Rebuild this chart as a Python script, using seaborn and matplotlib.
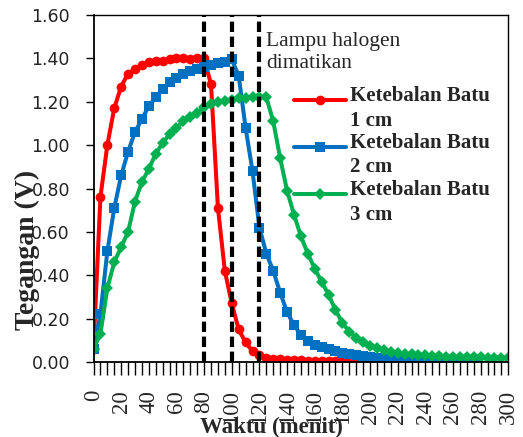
import numpy as np
import pandas as pd
import matplotlib
matplotlib.use("Agg")
import matplotlib.pyplot as plt
import seaborn as sns

# ---------------- data ----------------
time_1cm = list(range(0, 245, 5))
volt_1cm = [0.06, 0.76, 1.00, 1.17, 1.27, 1.33, 1.35, 1.37, 1.385, 1.39, 1.39, 1.395, 1.40, 1.40, 1.395, 1.40, 1.40,
            1.28, 0.71, 0.42, 0.27, 0.15, 0.09, 0.05, 0.03, 0.02, 0.015, 0.012, 0.01, 0.008, 0.007, 0.006, 0.005,
            0.005, 0.004, 0.004, 0.003, 0.003, 0.003, 0.002, 0.002,
            0.002, 0.002, 0.001, 0.001, 0.001, 0.001, 0.001, 0.001]

time_2cm = list(range(0, 280, 5))
volt_2cm = [0.06, 0.22, 0.51, 0.71, 0.86, 0.97, 1.06, 1.12, 1.18, 1.22, 1.26, 1.29, 1.31, 1.33, 1.34, 1.35, 1.36,
            1.37, 1.38, 1.385, 1.395,
            1.32, 1.08, 0.88, 0.62, 0.50, 0.42, 0.32, 0.23, 0.17, 0.125, 0.095, 0.08, 0.068, 0.058, 0.05, 0.042,
            0.036, 0.03, 0.026, 0.022,
            0.019, 0.016, 0.014, 0.012, 0.010, 0.009, 0.008, 0.007, 0.006, 0.005, 0.005, 0.004, 0.004, 0.003, 0.003]

time_3cm = list(range(0, 305, 5))
volt_3cm = [0.06, 0.13, 0.34, 0.46, 0.53, 0.60, 0.74, 0.83, 0.89, 0.96, 1.01, 1.05, 1.08, 1.11, 1.13, 1.15, 1.175,
            1.19, 1.20, 1.205, 1.21, 1.215, 1.215, 1.22, 1.22, 1.22,
            1.11, 0.94, 0.79, 0.68, 0.58, 0.50, 0.43, 0.37, 0.31, 0.24, 0.18, 0.14, 0.11, 0.09, 0.075, 0.063,
            0.054, 0.047, 0.042, 0.038, 0.035, 0.032, 0.03, 0.028, 0.026, 0.025, 0.024, 0.023, 0.022, 0.022,
            0.021, 0.02, 0.02, 0.02, 0.02]

series_labels = ["Ketebalan Batu\n1 cm", "Ketebalan Batu\n2 cm", "Ketebalan Batu\n3 cm"]
off_times = [80, 100, 120]
annotation = "Lampu halogen\ndimatikan"
x_ticks = list(range(0, 320, 20))
y_ticks = [0.0, 0.2, 0.4, 0.6, 0.8, 1.0, 1.2, 1.4, 1.6]

# ---------------- style ----------------
sns.set_style("ticks")
plt.rcParams["font.family"] = ["DejaVu Sans"]

W, H, DPI = 523, 437, 100
fig = plt.figure(figsize=(W / DPI, H / DPI), dpi=DPI)
ax = fig.add_axes([93.5 / W, 1 - 362 / H, (508.3 - 93.5) / W, (362 - 15) / H])

colors = ["#FF0000", "#0070C0", "#00B050"]
markers = ["o", "s", "D"]
msizes = [7, 6.5, 6]
data = [(time_1cm, volt_1cm), (time_2cm, volt_2cm), (time_3cm, volt_3cm)]

handles = []
for (t, v), lab, c, m, ms in zip(data, series_labels, colors, markers, msizes):
    df = pd.DataFrame({"t": t, "v": v})
    sns.lineplot(data=df, x="t", y="v", ax=ax, color=c, marker=m, markersize=ms,
                 markeredgewidth=0, linewidth=2.9, label=lab, legend=False)
    handles.append(ax.lines[-1])

for xt in off_times:
    ax.axvline(xt, color="black", linewidth=3, dashes=(2.5, 1.1), zorder=5)

ax.set_xlim(0, 300)
ax.set_ylim(0, 1.6)
ax.set_xticks(x_ticks)
ax.set_xticklabels([str(x) for x in x_ticks], rotation=90, fontfamily="Liberation Serif", fontsize=16.5)
ax.set_xticks(list(range(0, 305, 5)), minor=True)
ax.set_yticks(y_ticks)
ax.set_yticklabels([f"{y:.2f}" for y in y_ticks], fontfamily="DejaVu Sans", fontsize=12.5, color="#222222")
ax.tick_params(axis="x", which="both", direction="out", length=9, width=1, pad=11, color="black")
ax.tick_params(axis="y", which="major", direction="out", length=6, width=1, pad=11, color="black")

for s in ax.spines.values():
    s.set_color("black")
    s.set_linewidth(1)
for side in ["left", "bottom"]:
    ax.spines[side].set_linewidth(1.3)

ax.set_xlabel("Waktu (menit)", fontfamily="Liberation Serif", fontweight="bold", fontsize=16.5)
ax.xaxis.label.set_va("center")
ax.xaxis.set_label_coords((271 - 93.5) / 414.8, (362 - 427) / 347)
ax.set_ylabel("Tegangan (V)", fontfamily="Liberation Serif", fontweight="bold", fontsize=20)
ax.yaxis.label.set_va("center")
ax.yaxis.set_label_coords((27 - 93.5) / 414.8, (362 - 250) / 347)

ax.text((266 - 93.5) / 414.8, (362 - 32) / 347, annotation, transform=ax.transAxes,
        ha="left", va="top", fontfamily="Liberation Serif", fontsize=15.5, linespacing=1.2)

leg = ax.legend(handles=handles, labels=series_labels, loc="upper left",
                bbox_to_anchor=(294 / W, 1 - 86 / H), bbox_transform=fig.transFigure,
                frameon=False, borderpad=0, borderaxespad=0, handlelength=2.5, handletextpad=0.2,
                labelspacing=0.12,
                prop={"family": "Liberation Serif", "weight": "bold", "size": 15})
for txt in leg.get_texts():
    txt.set_linespacing(1.3)
# align each legend sample with the first line of its two-line label
for h in leg.legend_handles:
    h.set_ydata(np.asarray(h.get_ydata(), dtype=float) + 6.0)

fig.savefig("out.png", dpi=DPI)
